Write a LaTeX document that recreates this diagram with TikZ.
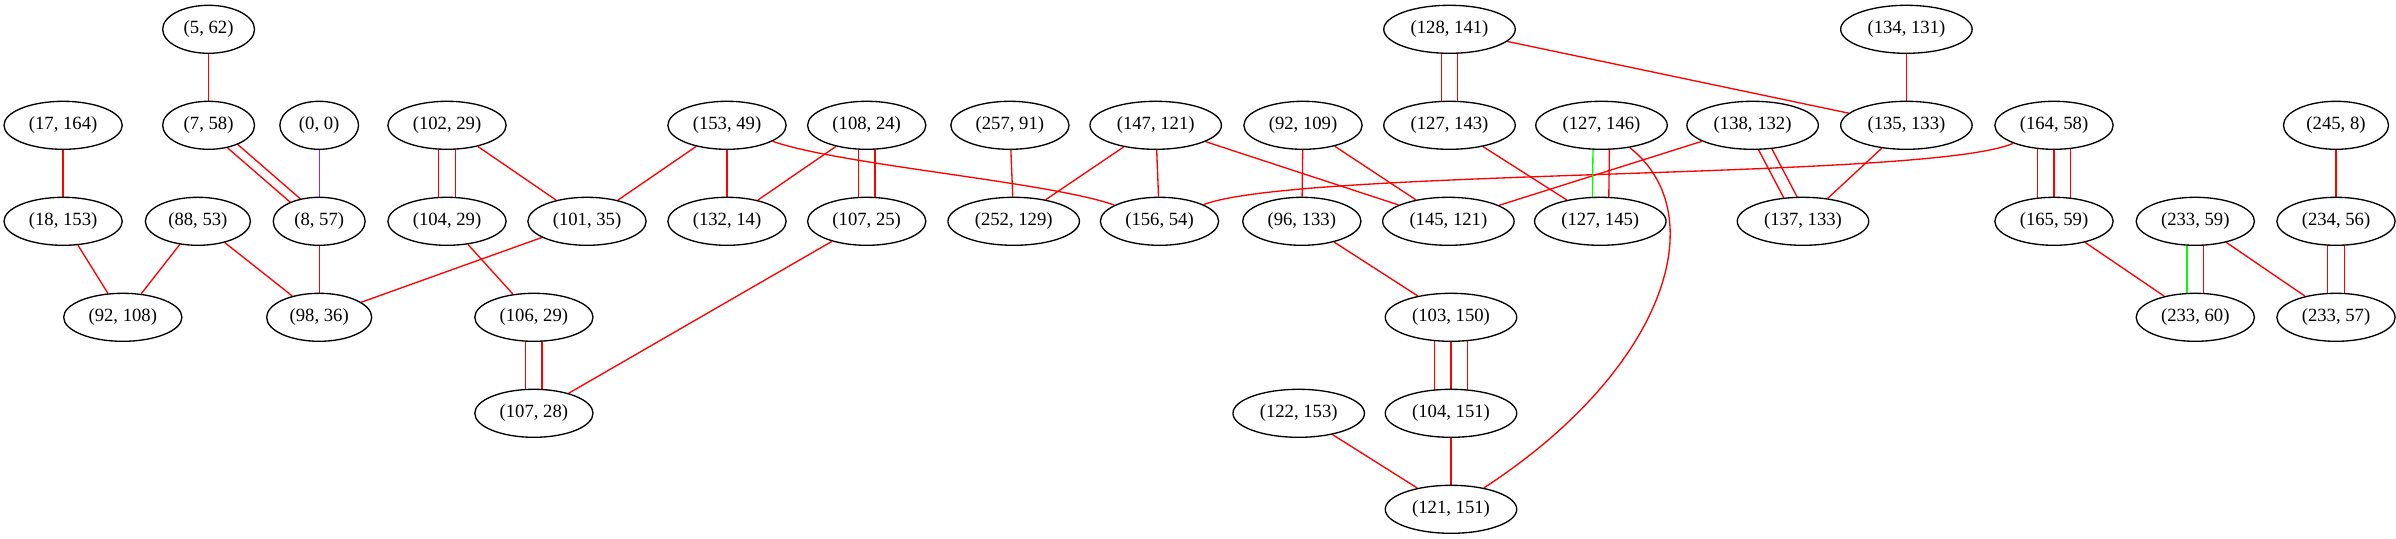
\documentclass[tikz,border=0pt]{standalone}
\usepackage{fontspec}
\setmainfont{Liberation Serif}
\usetikzlibrary{calc,shapes.geometric}
\pgfdeclarelayer{background}
\pgfsetlayers{background,main}
\definecolor{gvred}{HTML}{FF0000}
\definecolor{gvgreen}{HTML}{00FF00}
\definecolor{gvpurple}{HTML}{A020F0}
\begin{document}
\begin{tikzpicture}[x=0.75pt,y=-0.75pt,
  gvnode/.style={ellipse, draw, fill=white, line width=1pt, minimum width=54pt, minimum height=36pt, inner xsep=5.7pt, inner ysep=0pt, font=\fontsize{14pt}{16pt}\selectfont},
  re/.style={draw=gvred, line width=1pt},
  ge/.style={draw=gvgreen, line width=1pt},
  pe/.style={draw=gvpurple, line width=1pt}]
\useasboundingbox (0,0) rectangle (2396,539);
\def\rowA{29.3}\def\rowB{125.3}\def\rowC{221.3}\def\rowD{317.3}\def\rowE{413.3}\def\rowF{509.3}
% nodes
\node[gvnode] (n5x62) at (208.6,\rowA) {(5, 62)};
\node[gvnode] (n17x164) at (63.1,\rowB) {(17, 164)};
\node[gvnode] (n7x58) at (208.6,\rowB) {(7, 58)};
\node[gvnode] (n0x0) at (319.2,\rowB) {(0, 0)};
\node[gvnode] (n102x29) at (447,\rowB) {(102, 29)};
\node[gvnode] (n18x153) at (63.1,\rowC) {(18, 153)};
\node[gvnode] (n88x53) at (197.9,\rowC) {(88, 53)};
\node[gvnode] (n8x57) at (319.2,\rowC) {(8, 57)};
\node[gvnode] (n104x29) at (447,\rowC) {(104, 29)};
\node[gvnode] (n101x35) at (587,\rowC) {(101, 35)};
\node[gvnode] (n92x108) at (122.8,\rowD) {(92, 108)};
\node[gvnode] (n98x36) at (319.2,\rowD) {(98, 36)};
\node[gvnode] (n106x29) at (533.9,\rowD) {(106, 29)};
\node[gvnode] (n107x28) at (533.9,\rowE) {(107, 28)};
\node[gvnode] (n153x49) at (727,\rowB) {(153, 49)};
\node[gvnode] (n132x14) at (727,\rowC) {(132, 14)};
\node[gvnode] (n108x24) at (866.7,\rowB) {(108, 24)};
\node[gvnode] (n107x25) at (866.7,\rowC) {(107, 25)};
\node[gvnode] (n257x91) at (1009.9,\rowB) {(257, 91)};
\node[gvnode] (n252x129) at (1013.7,\rowC) {(252, 129)};
\node[gvnode] (n147x121) at (1155.7,\rowB) {(147, 121)};
\node[gvnode] (n156x54) at (1159.5,\rowC) {(156, 54)};
\node[gvnode] (n92x109) at (1303,\rowB) {(92, 109)};
\node[gvnode] (n96x133) at (1301.8,\rowC) {(96, 133)};
\node[gvnode] (n128x141) at (1449.5,\rowA) {(128, 141)};
\node[gvnode] (n127x143) at (1449.5,\rowB) {(127, 143)};
\node[gvnode] (n145x121) at (1448.4,\rowC) {(145, 121)};
\node[gvnode] (n127x146) at (1601.5,\rowB) {(127, 146)};
\node[gvnode] (n127x145) at (1600.3,\rowC) {(127, 145)};
\node[gvnode] (n138x132) at (1752.6,\rowB) {(138, 132)};
\node[gvnode] (n137x133) at (1803,\rowC) {(137, 133)};
\node[gvnode] (n134x131) at (1906.4,\rowA) {(134, 131)};
\node[gvnode] (n135x133) at (1906.4,\rowB) {(135, 133)};
\node[gvnode] (n164x58) at (2054,\rowB) {(164, 58)};
\node[gvnode] (n165x59) at (2054,\rowC) {(165, 59)};
\node[gvnode] (n103x150) at (1451,\rowD) {(103, 150)};
\node[gvnode] (n104x151) at (1451,\rowE) {(104, 151)};
\node[gvnode] (n122x153) at (1298.7,\rowE) {(122, 153)};
\node[gvnode] (n121x151) at (1451,\rowF) {(121, 151)};
\node[gvnode] (n233x59) at (2195.3,\rowC) {(233, 59)};
\node[gvnode] (n233x60) at (2195.3,\rowD) {(233, 60)};
\node[gvnode] (n245x8) at (2336,\rowB) {(245, 8)};
\node[gvnode] (n234x56) at (2336,\rowC) {(234, 56)};
\node[gvnode] (n233x57) at (2336,\rowD) {(233, 57)};
% edges
\begin{pgfonlayer}{background}
\draw[re] (n5x62) -- (n7x58);
\draw[pe] (n0x0) -- (n8x57);
\draw[re] (n17x164) -- (n18x153);
\draw[re] (n18x153) -- (n92x108);
\draw[re] (n88x53) -- (n92x108);
\draw[re] (n88x53) -- (n98x36);
\draw[re] (n8x57) -- (n98x36);
\draw[re] (n101x35) -- (n98x36);
\draw[re] (n102x29) -- (n101x35);
\draw[re] (n104x29) -- (n106x29);
\draw[re] (n153x49) -- (n101x35);
\draw[re] (n153x49) -- (n132x14);
\draw[re] (n108x24) -- (n132x14);
\draw[re] (n107x25) -- (n107x28);
\draw[re] (n257x91) -- (n252x129);
\draw[re] (n147x121) -- (n252x129);
\draw[re] (n147x121) -- (n156x54);
\draw[re] (n147x121) -- (n145x121);
\draw[re] (n92x109) -- (n96x133);
\draw[re] (n92x109) -- (n145x121);
\draw[re] (n96x133) -- (n103x150);
\draw[re] (n128x141) -- (n135x133);
\draw[re] (n127x143) -- (n127x145);
\draw[re] (n138x132) -- (n145x121);
\draw[re] (n134x131) -- (n135x133);
\draw[re] (n135x133) -- (n137x133);
\draw[re] (n165x59) -- (n233x60);
\draw[re] (n233x59) -- (n233x57);
\draw[re] (n245x8) -- (n234x56);
\draw[re] (n104x151) -- (n121x151);
\draw[re] (n122x153) -- (n121x151);
% curved edges
\draw[re] (n153x49) .. controls (840,165) and (1050,182) .. (n156x54);
\draw[re] (n127x146) .. controls (1715,215) and (1665,370) .. (n121x151);
\draw[re] (n164x58) .. controls (1930,180) and (1300,168) .. (n156x54);
% diagonal double edges
\draw[re] ($(n7x58)!3.45pt!90:(n8x57)$) -- ($(n8x57)!3.45pt!-90:(n7x58)$);
\draw[re] ($(n7x58)!3.45pt!-90:(n8x57)$) -- ($(n8x57)!3.45pt!90:(n7x58)$);
\draw[re] ($(n138x132)!4.6pt!90:(n137x133)$) -- ($(n137x133)!4.6pt!-90:(n138x132)$);
\draw[re] ($(n138x132)!4.6pt!-90:(n137x133)$) -- ($(n137x133)!4.6pt!90:(n138x132)$);
% vertical double edges
\foreach \a/\b in {n102x29/n104x29, n106x29/n107x28, n108x24/n107x25, n128x141/n127x143, n234x56/n233x57}{
  \draw[re] ($(\a)+(-8.2,0)$) -- ($(\b)+(-8.2,0)$);
  \draw[re] ($(\a)+(8.2,0)$) -- ($(\b)+(8.2,0)$);
}
% green/red pairs
\foreach \a/\b in {n127x146/n127x145, n233x59/n233x60}{
  \draw[ge] ($(\a)+(-8.2,0)$) -- ($(\b)+(-8.2,0)$);
  \draw[re] ($(\a)+(8.2,0)$) -- ($(\b)+(8.2,0)$);
}
% triple edges
\foreach \a/\b in {n164x58/n165x59, n103x150/n104x151}{
  \draw[re] ($(\a)+(-16.8,0)$) -- ($(\b)+(-16.8,0)$);
  \draw[re] (\a) -- (\b);
  \draw[re] ($(\a)+(16.8,0)$) -- ($(\b)+(16.8,0)$);
}
\end{pgfonlayer}
\end{tikzpicture}
\end{document}
